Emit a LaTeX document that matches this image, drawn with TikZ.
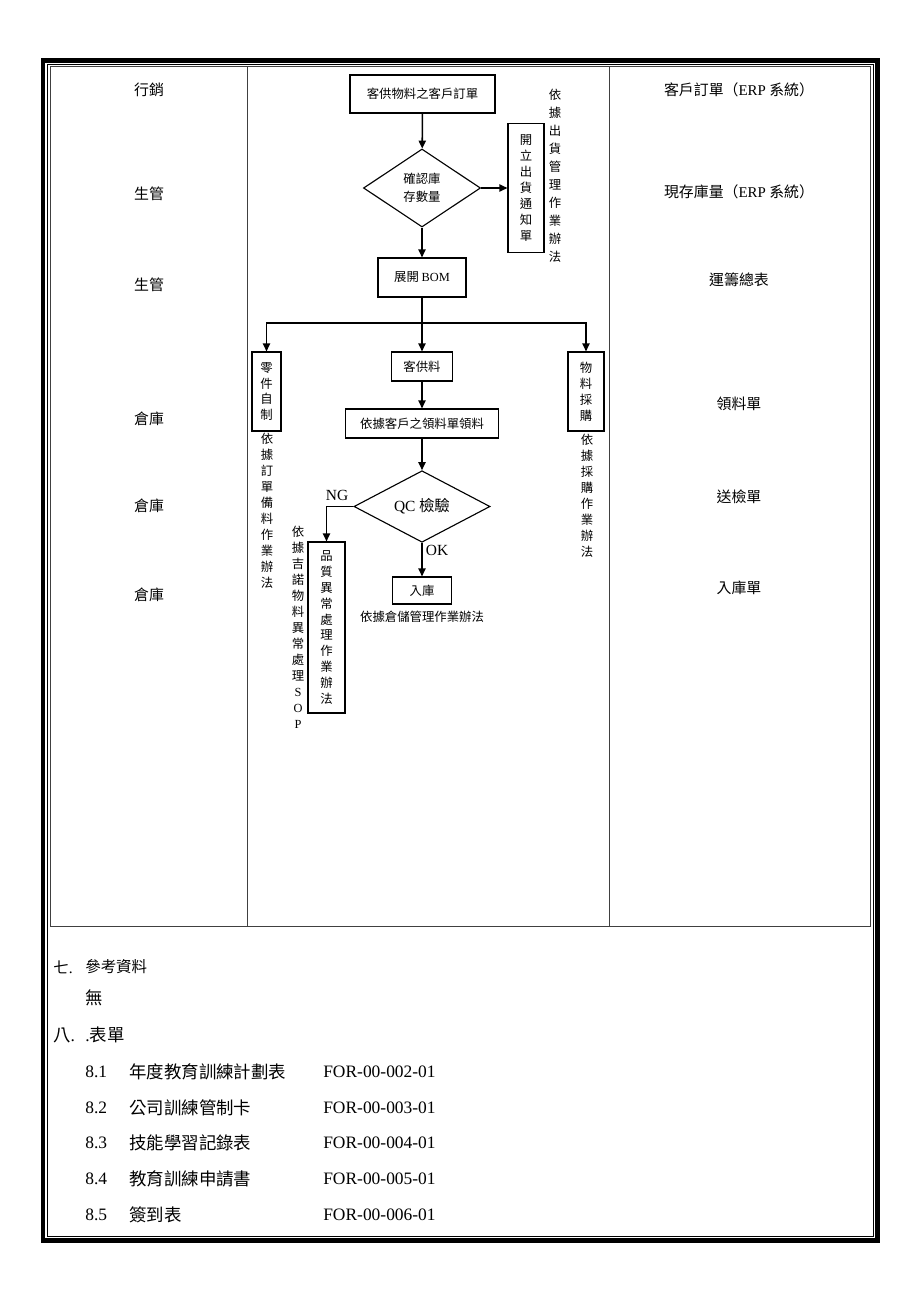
\documentclass[tikz,border=0pt]{standalone}
\usepackage{fontspec}
\setmainfont{Noto Sans CJK TC}
\newfontfamily\lat{Liberation Serif}
\usetikzlibrary{shapes.geometric,arrows.meta}

\tikzstyle{box}=[shape=rectangle,draw,line width=0.8pt,inner sep=0pt,align=center,font=\fontsize{8.8}{11.3}\selectfont]
\tikzstyle{decide}=[shape=diamond,draw,line width=0.8pt,inner sep=0pt,align=center]
\tikzstyle{note}=[inner sep=0pt,align=center,font=\fontsize{8.8}{11.4}\selectfont]
\tikzstyle{lane}=[inner sep=0pt,font=\fontsize{10.6}{12}\selectfont]
\tikzstyle{link}=[line width=1.1pt]
\tikzstyle{rule}=[draw=black!75,line width=0.6pt]
\tikzstyle{item}=[anchor=west,inner sep=0pt,font=\fontsize{12.4}{14}\selectfont]

\begin{document}
\begin{tikzpicture}[x=0.025cm,y=-0.025cm,>={Triangle[length=2mm,width=1.8mm]}]
\useasboundingbox (0,0) rectangle (920,1302);
% page frame and table
\draw[line width=3.2pt] (43,60.5) rectangle (877.5,1240.5);
\draw[line width=0.7pt] (47.5,64.5) rectangle (873,1236);
\draw[rule] (50,66) rectangle (870,926);
\draw[rule] (247,66) -- (247,926);
\draw[rule] (609,66) -- (609,926);

% departments
\node[lane] (dep1) at (149,90) {行銷};
\node[lane] (dep2) at (149,194) {生管};
\node[lane] (dep3) at (149,285) {生管};
\node[lane] (dep4) at (149,419) {倉庫};
\node[lane] (dep5) at (149,506) {倉庫};
\node[lane] (dep6) at (149,595) {倉庫};

% documents
\node[lane] (doc1) at (739,90) {客戶訂單（{\lat ERP} 系統）};
\node[lane] (doc2) at (739,192) {現存庫量（{\lat ERP} 系統）};
\node[lane] (doc3) at (739,280) {運籌總表};
\node[lane] (doc4) at (739,404) {領料單};
\node[lane] (doc5) at (739,497) {送檢單};
\node[lane] (doc6) at (739,588) {入庫單};

% flow
\node[box,minimum width=3.625cm,minimum height=0.95cm] (order) at (422.5,94) {客供物料之客戶訂單};
\node[decide,minimum width=2.925cm,minimum height=1.95cm,font=\fontsize{8.8}{13}\selectfont] (check) at (422,188) {確認庫\\存數量}
    edge [<-,link] (order);
\node[box,minimum width=0.9cm,minimum height=3.225cm] (ship) at (526,188) {開\\立\\出\\貨\\通\\知\\單}
    edge [<-,link] (check);
\node[note,font=\fontsize{8.8}{12.8}\selectfont] (shipnote) at (555,175.5) {依\\據\\出\\貨\\管\\理\\作\\業\\辦\\法};
\node[box,minimum width=2.2cm,minimum height=0.975cm] (bom) at (422,277.5) {展開 {\lat BOM}}
    edge [<-,link] (check);
\coordinate (split) at (422,323);
\draw[link] (bom) -- (split);

\node[box,minimum width=0.725cm,minimum height=1.975cm] (make) at (266.5,391.5) {零\\件\\自\\制};
\node[box,minimum width=1.525cm,minimum height=0.725cm] (cust) at (422,366.5) {客供料};
\node[box,minimum width=0.9cm,minimum height=1.975cm] (buy) at (586,391.5) {物\\料\\採\\購};
\draw[->,link] (split) -| (make);
\draw[->,link] (split) -- (cust);
\draw[->,link] (split) -| (buy);
\node[note] (makenote) at (267,510.5) {依\\據\\訂\\單\\備\\料\\作\\業\\辦\\法};
\node[note] (buynote) at (587,495.5) {依\\據\\採\\購\\作\\業\\辦\\法};

\node[box,minimum width=3.825cm,minimum height=0.725cm] (pick) at (422,423.5) {依據客戶之領料單領料}
    edge [<-,link] (cust);
\node[decide,minimum width=3.4cm,minimum height=1.625cm,font=\fontsize{11}{13}\selectfont] (qc) at (422,506.5) {{\lat QC} 檢驗}
    edge [<-,link] (pick);

% results of the check
\node[box,minimum width=0.925cm,minimum height=4.275cm] (ngbox) at (326.5,627.5) {品\\質\\異\\常\\處\\理\\作\\業\\辦\\法};
\draw[->,link] (qc) -| (ngbox);
\node[inner sep=0pt,font=\fontsize{11}{13}\selectfont\lat] (ng) at (337,495) {NG};
\node[note] (sopnote) at (298,627.5) {依\\據\\吉\\諾\\物\\料\\異\\常\\處\\理\\{\lat S}\\{\lat O}\\{\lat P}};
\node[box,minimum width=1.475cm,minimum height=0.675cm] (store) at (422,590.5) {入庫}
    edge [<-,link] (qc);
\node[inner sep=0pt,font=\fontsize{11}{13}\selectfont\lat] (ok) at (437,550) {OK};
\node[note] (storenote) at (422,617) {依據倉儲管理作業辦法};

% references and forms
\node[item,font=\fontsize{11}{13}\selectfont] (sec7) at (53,967) {七{\lat .}};
\node[item,font=\fontsize{11}{13}\selectfont] (sec7t) at (85,967) {參考資料};
\node[item] (none) at (85,998) {無};
\node[item] (sec8) at (53,1035) {八{\lat .}};
\node[item] (sec8t) at (85,1035) {{\lat .}表單};
\node[item] (n1) at (85,1072) {\lat 8.1};
\node[item] (t1) at (129,1072) {年度教育訓練計劃表};
\node[item] (c1) at (323,1072) {\lat FOR-00-002-01};
\node[item] (n2) at (85,1108) {\lat 8.2};
\node[item] (t2) at (129,1108) {公司訓練管制卡};
\node[item] (c2) at (323,1108) {\lat FOR-00-003-01};
\node[item] (n3) at (85,1143) {\lat 8.3};
\node[item] (t3) at (129,1143) {技能學習記錄表};
\node[item] (c3) at (323,1143) {\lat FOR-00-004-01};
\node[item] (n4) at (85,1179) {\lat 8.4};
\node[item] (t4) at (129,1179) {教育訓練申請書};
\node[item] (c4) at (323,1179) {\lat FOR-00-005-01};
\node[item] (n5) at (85,1215) {\lat 8.5};
\node[item] (t5) at (129,1215) {簽到表};
\node[item] (c5) at (323,1215) {\lat FOR-00-006-01};
\end{tikzpicture}
\end{document}
